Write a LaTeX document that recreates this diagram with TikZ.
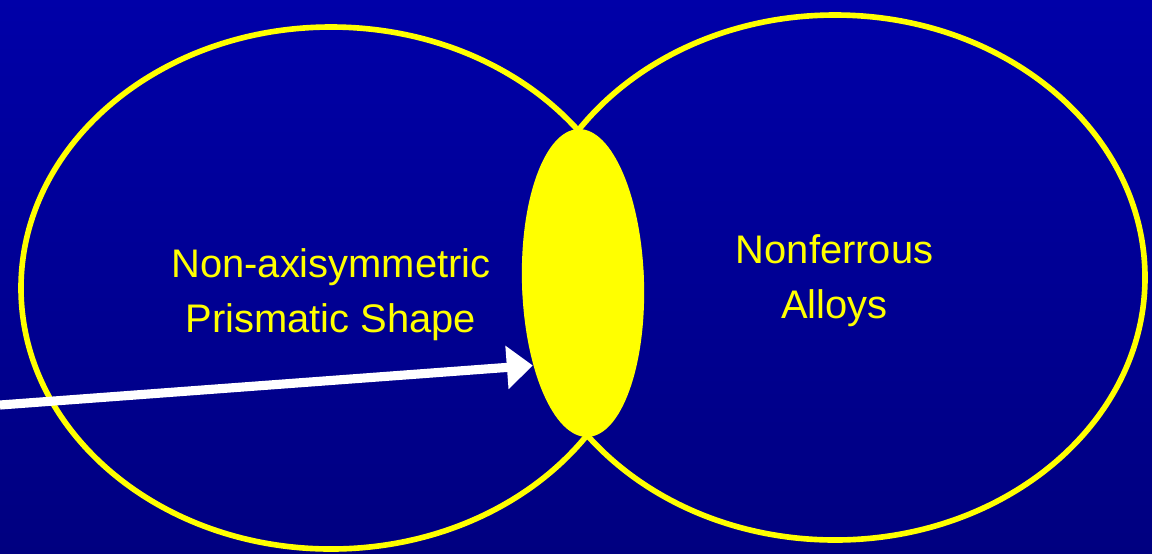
\documentclass[tikz,border=0pt]{standalone}
\usepackage{fontspec}
\setmainfont{Liberation Sans}
\usepackage{xcolor}
\usetikzlibrary{arrows.meta, shapes.geometric}
\definecolor{bgtop}{RGB}{0,0,168}
\definecolor{bgbottom}{RGB}{0,0,128}
\definecolor{vennyellow}{RGB}{255,255,0}
\begin{document}
\begin{tikzpicture}[
  every node/.style={font=\fontsize{11.35}{15.6}\selectfont},
  setring/.style={draw=vennyellow, line width=1.6pt},
  overlap/.style={ellipse, fill=vennyellow, draw=none, inner sep=0pt},
  settext/.style={align=center, inner sep=0pt, text=vennyellow},
  pointer/.style={-{Triangle[length=2.6mm, width=4.2mm]}, line width=2.6pt, color=white},
]
% background
\fill[top color=bgtop, bottom color=bgbottom] (0,0) rectangle (11.52,5.53);
\useasboundingbox (0,0) rectangle (11.52,5.53);
% the two sets
\draw[setring] (3.31,2.65) ellipse [x radius=3.10, y radius=2.61];
\draw[setring] (8.35,2.755) ellipse [x radius=3.10, y radius=2.625];
\node[overlap, minimum width=1.22cm, minimum height=3.08cm, rotate=1.7] (lens) at (5.83,2.70) {};
\node[settext] (shape) at (3.31,2.585) {Non-axisymmetric\\Prismatic Shape};
\node[settext] (alloys) at (8.345,2.72) {Nonferrous\\Alloys};
% pointer into the overlap
\coordinate (start) at (0,1.48);
\draw[pointer] (start) -- (lens.237);
\end{tikzpicture}
\end{document}
